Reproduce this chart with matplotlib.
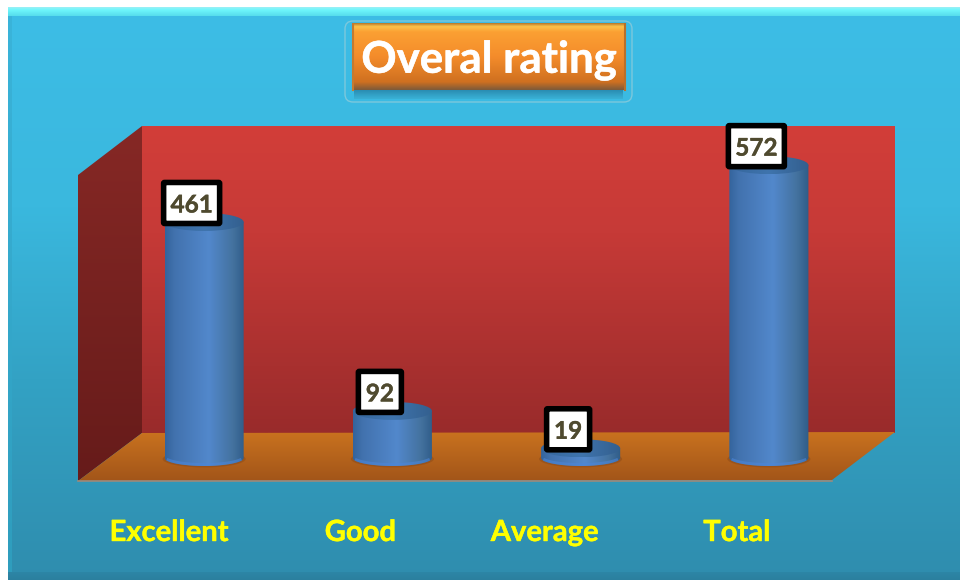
import numpy as np
import matplotlib
matplotlib.use('Agg')
import matplotlib.pyplot as plt
from matplotlib.colors import to_rgb
from matplotlib.patches import Polygon, Ellipse, FancyBboxPatch
from matplotlib.transforms import IdentityTransform
import matplotlib.patheffects as pe

categories = ['Excellent', 'Good', 'Average', 'Total']
values = [461, 92, 19, 572]
title = 'Overal rating'

plt.rcParams['font.family'] = ['Lato', 'DejaVu Sans']

W, H = 960, 580
fig = plt.figure(figsize=(W / 100, H / 100), dpi=100, facecolor='white')


def gradient(ax, extent, stops, horizontal=False, clip=None, zorder=1):
    # stops = [(pos, colour), ...] pos runs 0..1 from top (or left)
    pos = [s[0] for s in stops]
    rgb = np.array([to_rgb(s[1]) for s in stops])
    t = np.linspace(0, 1, 256)
    img = np.stack([np.interp(t, pos, rgb[:, i]) for i in range(3)], axis=-1)
    img = img[np.newaxis, :, :] if horizontal else img[:, np.newaxis, :]
    im = ax.imshow(img, extent=extent, origin='upper', aspect='auto',
                   interpolation='bilinear', zorder=zorder)
    if clip is not None:
        ax.add_patch(clip)
        clip.set_facecolor('none')
        clip.set_edgecolor('none')
        im.set_clip_path(clip)
    return im


def bold(color, width):
    # Lato bold is a little lighter than the original face
    return [pe.withStroke(linewidth=width, foreground=color)]


# background, drawn in pixel coordinates
bg = fig.add_axes([0, 0, 1, 1])
bg.axis('off')

gradient(bg, (8, 960, 580, 7),
         [(0, '#3dbde6'), (0.35, '#3ab8de'), (0.65, '#33a2c4'), (1, '#2f8dae')])
gradient(bg, (8, 960, 16, 7), [(0, '#9feff5'), (0.3, '#6ff7fc'), (1, '#55dcec')])
gradient(bg, (8, 960, 580, 572), [(0, '#2d86a6'), (1, '#2b7f9e')])
gradient(bg, (8, 12, 572, 16), [(0, '#3ab4da'), (1, '#2f9dbd')], zorder=2)

# chart walls
wall = Polygon([(142, 126), (895, 126), (895, 433), (142, 433)], closed=True)
gradient(bg, (142, 895, 433, 126),
         [(0, '#d23e39'), (0.35, '#c63a37'), (1, '#992b2b')], clip=wall, zorder=3)
side = Polygon([(78, 175), (142, 126), (142, 433), (78, 481)], closed=True)
gradient(bg, (78, 142, 481, 126), [(0, '#862825'), (1, '#661b1a')], clip=side, zorder=3)
floor = Polygon([(78, 481), (142, 433), (895, 432), (832, 480)], closed=True)
gradient(bg, (78, 895, 481, 432), [(0, '#c9721f'), (1, '#a25519')], clip=floor, zorder=3)
bg.plot([78, 832], [481, 481], color='#9c8a7c', lw=1.2, zorder=4)

# title button
bg.add_patch(FancyBboxPatch((345, 21), 287, 81, boxstyle='round,pad=0,rounding_size=8',
                            fc='none', ec='#7cc8dc', lw=1, zorder=3))
gradient(bg, (354, 623, 99, 90), [(0, '#2a8cb2'), (1, '#3ab2d6')], zorder=3)
gradient(bg, (352, 625, 90, 23),
         [(0, '#b5772a'), (0.05, '#fcc24a'), (0.13, '#fba033'), (0.5, '#f48c2b'),
          (0.88, '#cf7020'), (1, '#7c5a3a')], zorder=4)
bg.plot([352.5, 352.5], [24, 90], color='#c47a30', lw=1.5, zorder=4)
bg.plot([624.5, 624.5], [24, 90], color='#b9702a', lw=1.5, zorder=4)
bg.text(489, 60, title, color='white', fontsize=31.5, fontweight='bold',
        ha='center', va='center', zorder=5, path_effects=bold('white', 0.35))

bg.set_xlim(0, W)
bg.set_ylim(H, 0)

# data axes: categories 188.3 px apart, 0.512 px per unit, zero at y=458
ax = fig.add_axes([110 / W, (H - 490) / H, 753 / W, 370 / H])
ax.patch.set_alpha(0)
ax.axis('off')
x = np.arange(len(categories))
ax.set_xlim(-0.5, 3.5)
ax.set_ylim(-32 / 0.512, 338 / 0.512)
ax.set_autoscale_on(False)

bar_w = 0.42
ry = 8 / 0.512
top_ry = 9 / 0.512
bars = ax.bar(x, values, width=bar_w, color='none', zorder=1)
body_stops = [(0, '#34649c'), (0.12, '#4272ae'), (0.55, '#5288cc'),
              (0.85, '#44729f'), (1, '#2f5c88')]
top_stops = [(0, '#35669c'), (0.5, '#3f74ad'), (1, '#335f8e')]

for xc, v in zip(x, values):
    # shadow on the floor
    ax.add_patch(Ellipse((xc, -2), bar_w * 1.05, 2 * ry * 1.05, fc='#8a4a1a', ec='none',
                         alpha=0.5, zorder=2))
    t = np.linspace(np.pi, 2 * np.pi, 60)
    xs = xc + bar_w / 2 * np.cos(t)
    ys = ry * np.sin(t)
    pts = np.column_stack([xs, ys])
    pts = np.vstack([pts, [xc + bar_w / 2, v], [xc - bar_w / 2, v]])
    body = Polygon(pts, closed=True, transform=ax.transData)
    gradient(ax, (xc - bar_w / 2, xc + bar_w / 2, -ry, v), body_stops,
             horizontal=True, clip=body, zorder=3)
    # light rim along the bottom
    ax.plot(xs[8:-8], ys[8:-8] + 3, color='#4c86d8', lw=2, zorder=4, alpha=0.6)
    # top face
    lid = Ellipse((xc, v), bar_w, 2 * top_ry, transform=ax.transData)
    gradient(ax, (xc - bar_w / 2, xc + bar_w / 2, v - top_ry, v + top_ry), top_stops,
             horizontal=True, clip=lid, zorder=5)

    # value label box, up and to the left of the top face (pixel sizes)
    px, py = ax.transData.transform((xc, v))
    bw = 56 if v >= 100 else 43
    bh = 41
    cx, cy = px - 12.5, py + 19
    ax.add_patch(FancyBboxPatch((cx - bw / 2, cy - bh / 2), bw, bh,
                                boxstyle='round,pad=0,rounding_size=1',
                                fc='white', ec='black', lw=4, zorder=7,
                                transform=IdentityTransform(), clip_on=False,
                                path_effects=[pe.withSimplePatchShadow(offset=(1, -2),
                                                                       alpha=0.35)]))
    ax.annotate(str(v), xy=(xc, v), xytext=(-12.5, 19), textcoords='offset pixels',
                ha='center', va='center_baseline', fontsize=17.5, fontweight='bold',
                color='#4f4a2f', zorder=8, path_effects=bold('#4f4a2f', 0.3))

# category labels are not centred under the cylinders in the original
label_dx = [-35, -32, -36, -32]
for xc, name, dx in zip(x, categories, label_dx):
    ax.annotate(name, xy=(xc, 0), xytext=(dx, -75), textcoords='offset pixels',
                ha='center', va='center', fontsize=21, fontweight='bold', color='#ffff00',
                zorder=8, path_effects=bold('#ffff00', 0.3))

fig.savefig('out.png', dpi=100, facecolor='white')
